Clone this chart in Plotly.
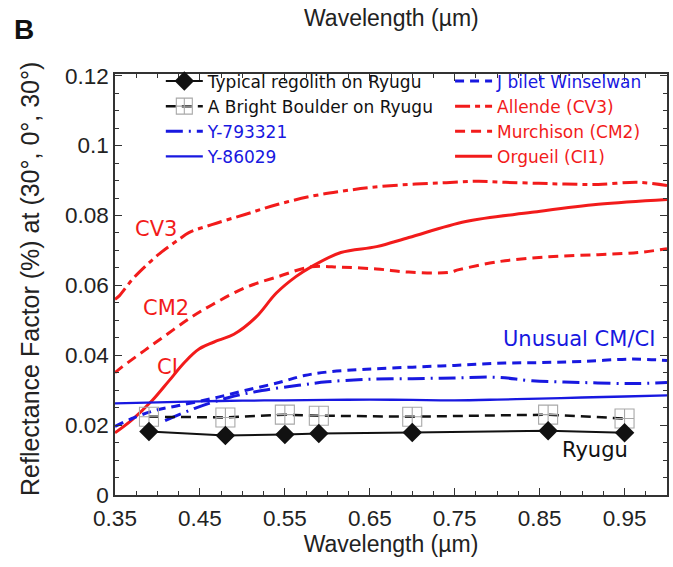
import plotly.graph_objects as go

# Hayabusa2 ONC-T band centres (µm) and Ryugu reflectance
wl_ryugu = [0.39, 0.48, 0.55, 0.59, 0.70, 0.86, 0.95]
typical_regolith = [0.0182, 0.0170, 0.0173, 0.0176, 0.0179, 0.0184, 0.0178]
bright_boulder = [0.0224, 0.0222, 0.0230, 0.0227, 0.0224, 0.0230, 0.0219]

# Meteorite laboratory spectra
wl_y86029 = [0.35, 0.40, 0.45, 0.50, 0.55, 0.60, 0.65, 0.70, 0.75, 0.80, 0.85, 0.90, 0.95, 1.0]
y86029 = [0.0262, 0.0265, 0.0268, 0.0270, 0.0271, 0.0272, 0.0273, 0.0272, 0.0271, 0.0273, 0.0276, 0.0279, 0.0282, 0.0285]

wl_jbilet = [0.35, 0.37, 0.397, 0.425, 0.464, 0.503, 0.543, 0.573, 0.60, 0.646, 0.70, 0.75, 0.80, 0.85, 0.90, 0.958, 1.0]
jbilet = [0.0196, 0.0219, 0.0242, 0.0256, 0.0276, 0.0299, 0.0322, 0.0342, 0.0352, 0.0360, 0.0366, 0.0371, 0.0377, 0.0379, 0.0382, 0.0389, 0.0385]

wl_y793321 = [0.409, 0.444, 0.484, 0.523, 0.566, 0.60, 0.646, 0.70, 0.75, 0.80, 0.841, 0.90, 0.958, 1.0]
y793321 = [0.0213, 0.0248, 0.0279, 0.0299, 0.0314, 0.0324, 0.0331, 0.0333, 0.0335, 0.0337, 0.0327, 0.0322, 0.0319, 0.0322]

wl_allende = [0.35, 0.355, 0.37, 0.385, 0.405, 0.425, 0.437, 0.464, 0.503, 0.542, 0.581, 0.616, 0.65, 0.696, 0.74, 0.778, 0.81, 0.849, 0.88, 0.919, 0.966, 1.0]
allende = [0.0560, 0.0570, 0.0616, 0.0653, 0.0696, 0.0731, 0.0751, 0.0774, 0.0803, 0.0832, 0.0855, 0.0869, 0.0880, 0.0889, 0.0894, 0.0898, 0.0895, 0.0892, 0.0890, 0.0889, 0.0895, 0.0886]

wl_murchison = [0.35, 0.358, 0.385, 0.413, 0.44, 0.464, 0.503, 0.542, 0.581, 0.616, 0.658, 0.696, 0.743, 0.755, 0.802, 0.861, 0.919, 0.966, 1.0]
murchison = [0.0350, 0.0366, 0.0414, 0.0463, 0.0509, 0.0544, 0.0593, 0.0625, 0.0653, 0.0652, 0.0647, 0.0638, 0.0637, 0.0645, 0.0668, 0.0682, 0.0688, 0.0694, 0.0705]

wl_orgueil = [0.35, 0.37, 0.394, 0.414, 0.432, 0.449, 0.472, 0.49, 0.516, 0.54, 0.563, 0.581, 0.616, 0.658, 0.696, 0.763, 0.841, 0.919, 1.0]
orgueil = [0.0178, 0.0215, 0.0271, 0.0328, 0.0380, 0.0418, 0.0443, 0.0460, 0.0509, 0.0578, 0.0625, 0.0653, 0.0694, 0.0711, 0.0737, 0.0783, 0.0809, 0.0832, 0.0846]

# In-plot labels: (text, x, y)
curve_labels = [("CV3", 0.398, 0.0760), ("CM2", 0.410, 0.0535), ("CI", 0.412, 0.0365)]
group_labels = [("Unusual CM/CI", 0.896, 0.0446, "blue"), ("Ryugu", 0.915, 0.0128, "black")]

RED = "#f21b1b"
BLUE = "#1818e0"
BLACK = "#111111"
AX_FONT = "Liberation Sans, Arial, sans-serif"
LEG_FONT = "DejaVu Sans, Verdana, sans-serif"


def colored(text, color):
    return f'<span style="color:{color}">{text}</span>'


fig = go.Figure()

# red (carbonaceous chondrite) spectra
fig.add_trace(go.Scatter(x=wl_allende, y=allende, mode="lines", line_shape="spline",
                         line=dict(color=RED, width=3, dash="15px,5px,5px,5px"),
                         name=colored("Allende (CV3)", RED), legend="legend2", legendrank=2))
fig.add_trace(go.Scatter(x=wl_murchison, y=murchison, mode="lines", line_shape="spline",
                         line=dict(color=RED, width=3, dash="10px,6px"),
                         name=colored("Murchison (CM2)", RED), legend="legend2", legendrank=3))
fig.add_trace(go.Scatter(x=wl_orgueil, y=orgueil, mode="lines", line_shape="spline",
                         line=dict(color=RED, width=3),
                         name=colored("Orgueil (CI1)", RED), legend="legend2", legendrank=4))

# blue (unusual CM/CI) spectra
fig.add_trace(go.Scatter(x=wl_jbilet, y=jbilet, mode="lines", line_shape="spline",
                         line=dict(color=BLUE, width=3, dash="9px,6px"),
                         name=colored("J bilet Winselwan", BLUE), legend="legend2", legendrank=1))
fig.add_trace(go.Scatter(x=wl_y793321, y=y793321, mode="lines", line_shape="spline",
                         line=dict(color=BLUE, width=3, dash="17px,6px,2px,6px"),
                         name=colored("Y-793321", BLUE), legend="legend", legendrank=3))
fig.add_trace(go.Scatter(x=wl_y86029, y=y86029, mode="lines", line_shape="spline",
                         line=dict(color=BLUE, width=2.3),
                         name=colored("Y-86029", BLUE), legend="legend", legendrank=4))

# Ryugu
fig.add_trace(go.Scatter(x=wl_ryugu, y=bright_boulder, mode="lines+markers",
                         line=dict(color=BLACK, width=2.5, dash="10px,6px"),
                         marker=dict(symbol="square-cross-open", size=19, color="#a8a8a8",
                                     line=dict(width=1.1)),
                         name="A Bright Boulder on Ryugu", legend="legend", legendrank=2))
fig.add_trace(go.Scatter(x=wl_ryugu, y=typical_regolith, mode="lines+markers",
                         line=dict(color=BLACK, width=2),
                         marker=dict(symbol="diamond", size=15, color=BLACK),
                         name="Typical regolith on Ryugu", legend="legend", legendrank=1))

for text, x, y in curve_labels:
    fig.add_annotation(x=x, y=y, text=text, showarrow=False,
                       font=dict(family=LEG_FONT, size=21, color=RED))
for text, x, y, c in group_labels:
    fig.add_annotation(x=x, y=y, text=text, showarrow=False,
                       font=dict(family=LEG_FONT, size=21, color=BLUE if c == "blue" else BLACK))

# top axis title, y axis title and panel letter
fig.add_annotation(xref="paper", yref="paper", x=0.5, y=1.133, yanchor="middle",
                   text="Wavelength (µm)", showarrow=False,
                   font=dict(family=AX_FONT, size=23, color="#222"))
fig.add_annotation(xref="paper", yref="paper", x=-0.153, y=0.512, xanchor="center",
                   yanchor="middle", textangle=-90,
                   text="Reflectance Factor (%) at (30°, 0°, 30°)", showarrow=False,
                   font=dict(family=AX_FONT, size=25, color="#222"))
fig.add_annotation(xref="paper", yref="paper", x=-0.186, y=1.105, yanchor="middle",
                   text="<b>B</b>", showarrow=False,
                   font=dict(family=AX_FONT, size=28, color="#111"))

axis_common = dict(showline=True, linecolor="#333", linewidth=1.5, mirror="ticks",
                   ticks="inside", ticklen=7, tickcolor="#333", showgrid=False, zeroline=False,
                   tickfont=dict(family=AX_FONT, size=22.5, color="#222"))

fig.update_xaxes(range=[0.35, 1.0], tick0=0.35, dtick=0.1, tickformat=".2f",
                 minor=dict(ticks="inside", dtick=0.025, ticklen=4, tickcolor="#333"),
                 title=dict(text="Wavelength (µm)", font=dict(family=AX_FONT, size=23, color="#222"),
                            standoff=6),
                 ticklabelstandoff=2,
                 **axis_common)
fig.update_yaxes(range=[0, 0.1205], tickvals=[0, 0.02, 0.04, 0.06, 0.08, 0.1, 0.12],
                 ticktext=["0", "0.02", "0.04", "0.06", "0.08", "0.1", "0.12"],
                 minor=dict(ticks="inside", dtick=0.005, ticklen=4, tickcolor="#333"),
                 **axis_common)

legend_common = dict(bgcolor="rgba(0,0,0,0)", borderwidth=0, xanchor="left", yanchor="top",
                     font=dict(family=LEG_FONT, size=17, color="#111"), itemwidth=37,
                     tracegroupgap=0, traceorder="normal")
fig.update_layout(
    width=673, height=567,
    margin=dict(l=115, r=4, t=74, b=72),
    paper_bgcolor="white", plot_bgcolor="white",
    legend=dict(x=0.083, y=1.025, **legend_common),
    legend2=dict(x=0.607, y=1.025, **legend_common),
)

fig.write_html("out.html")
